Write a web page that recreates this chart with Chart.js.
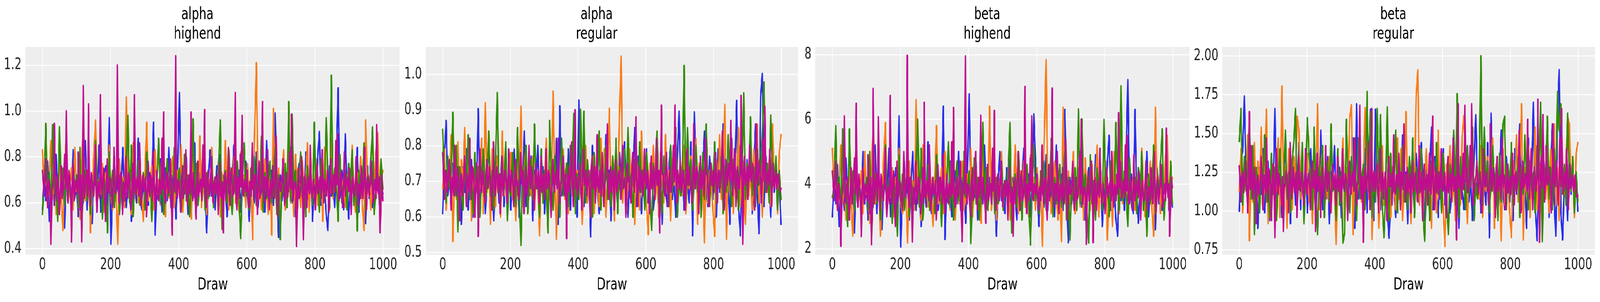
<!DOCTYPE html>
<html>
<head>
<meta charset="utf-8">
<script src="https://cdn.jsdelivr.net/npm/chart.js@4.4.1/dist/chart.umd.min.js"></script>
<style>
  html, body { margin: 0; padding: 0; background: #fff; overflow: hidden; }
  #stage { position: absolute; left: 0; top: 0; width: 5783px; height: 773px; transform-origin: 0 0; }
  #stage canvas { position: absolute; top: 0; }
</style>
</head>
<body>
<div id="stage"></div>
<script>
/* Trace plot: 4 panels (alpha/beta x highend/regular), 4 chains each.
   Values: one sample per ~5 draws, the top (magenta)
   chain one per ~2.5 draws because it is the one that shows. */

const PANEL_TITLES = [["alpha", "highend"], ["alpha", "regular"], ["beta", "highend"], ["beta", "regular"]];
const X_TICKS = [0, 200, 400, 600, 800, 1000];
const X_TICK_LABELS = ["0", "200", "400", "600", "800", "1000"];
const Y_TICKS = [[0.4, 0.6, 0.8, 1.0, 1.2], [0.5, 0.6, 0.7, 0.8, 0.9, 1.0], [2, 4, 6, 8], [0.75, 1.0, 1.25, 1.5, 1.75, 2.0]];
const Y_TICK_LABELS = [["0.4", "0.6", "0.8", "1.0", "1.2"], ["0.5", "0.6", "0.7", "0.8", "0.9", "1.0"],
                       ["2", "4", "6", "8"], ["0.75", "1.00", "1.25", "1.50", "1.75", "2.00"]];
const CHAIN_COLORS = ["#2a2eec", "#fa7c17", "#328c06", "#c10c90"];
const N_DRAWS = 1000;

// ---- alpha / highend ----
const alphaHighend0 = [
  0.57,0.72,0.61,0.78,0.52,0.66,0.70,0.59,0.81,0.63,0.55,0.74,0.68,0.49,0.77,0.64,0.71,0.58,0.83,0.62,
  0.69,0.54,0.75,0.66,0.60,0.87,0.57,0.73,0.65,0.51,0.79,0.68,0.62,0.85,0.56,0.70,0.64,0.76,0.59,0.97,
  0.42,0.67,0.80,0.61,0.72,0.55,0.69,0.84,0.63,0.58,0.74,0.66,0.52,0.78,0.70,0.60,0.88,0.64,0.57,0.71,
  0.65,0.82,0.59,0.73,0.68,0.95,0.46,0.70,0.63,0.79,0.56,0.67,0.75,0.61,0.84,0.58,0.72,0.66,0.53,0.77,
  1.08,0.60,0.71,0.64,0.80,0.55,0.69,0.74,0.62,0.86,0.58,0.67,0.73,0.61,0.78,0.65,0.47,0.70,0.83,0.63,
  0.68,0.57,0.76,0.64,0.81,0.59,0.72,0.66,0.54,0.79,0.62,0.70,0.85,0.60,0.67,0.74,0.56,0.71,0.63,0.78,
  0.65,0.52,0.73,0.69,0.60,0.82,0.58,0.75,0.64,0.70,0.56,0.87,0.62,0.68,0.74,0.59,0.99,0.66,0.45,0.72,
  0.61,0.79,0.57,0.70,0.65,0.84,0.60,0.73,0.54,0.68,0.77,0.63,0.71,0.58,0.82,0.66,0.60,0.75,0.52,0.69,
  0.64,0.80,0.91,0.59,0.72,0.67,0.55,0.48,0.76,0.63,0.70,0.58,0.81,1.10,0.62,0.74,0.57,0.90,0.66,0.53,
  0.71,0.78,0.60,0.67,0.84,0.56,0.73,0.64,0.69,0.51,0.76,0.62,0.80,0.58,0.70,0.65,0.83,0.59,0.68,0.64];
const alphaHighend1 = [
  0.83,0.66,0.74,0.58,0.70,0.87,0.62,0.76,0.55,0.68,0.80,0.63,0.48,0.72,0.89,0.60,0.67,0.75,0.57,0.84,
  0.65,0.71,0.53,0.78,0.95,0.61,0.69,0.74,0.47,0.66,0.82,0.96,0.59,0.70,0.64,0.77,0.56,0.73,0.68,0.85,
  0.62,0.57,0.75,0.66,0.42,0.79,0.63,0.71,0.58,1.06,0.67,0.74,0.55,0.86,0.64,0.70,0.60,0.78,0.65,0.52,
  0.73,0.95,0.61,0.68,0.76,0.57,0.83,0.64,0.70,0.59,0.88,0.66,0.54,0.75,0.62,0.71,0.80,0.58,0.67,0.74,
  0.63,0.85,0.56,0.69,0.77,0.60,0.72,0.53,0.81,0.66,0.74,0.61,0.89,0.58,0.68,0.76,0.55,0.71,0.64,0.84,
  0.59,0.70,0.66,0.78,0.54,0.73,0.62,0.87,0.67,0.57,0.75,0.64,0.80,0.60,0.69,0.56,0.82,0.65,0.72,0.58,
  0.77,0.63,0.70,0.44,0.86,1.21,0.61,0.74,0.57,0.68,0.79,0.64,0.55,0.72,0.46,1.01,0.66,0.58,0.75,0.62,
  0.70,0.83,0.57,0.67,0.76,0.60,0.72,0.54,0.81,0.65,0.69,0.58,0.78,0.63,0.71,0.86,0.56,0.74,0.61,0.68,
  0.79,0.59,0.66,0.73,0.52,0.84,0.64,0.70,0.57,0.88,0.62,0.75,0.67,0.55,0.80,0.63,0.72,0.58,0.69,0.76,
  0.61,0.85,0.65,0.56,0.73,0.68,0.80,0.59,0.48,0.96,0.64,0.71,0.57,0.77,0.66,0.82,0.905,0.60,0.69,0.74];
const alphaHighend2 = [
  0.55,0.68,0.945,0.60,0.73,0.57,0.94,0.64,0.70,0.52,0.93,0.66,0.75,0.59,0.81,0.63,0.69,0.56,0.77,0.65,
  0.72,0.58,0.84,0.475,0.67,0.74,0.61,0.79,0.55,0.70,0.64,0.87,0.60,0.68,0.76,0.53,0.71,0.65,0.47,0.82,
  0.63,0.74,0.58,0.69,0.80,0.56,0.72,0.66,0.61,0.77,0.98,0.60,0.85,0.54,0.70,0.64,0.78,0.59,0.67,0.73,
  0.57,0.82,0.65,0.70,0.52,0.76,0.62,0.68,0.88,0.60,0.73,0.55,0.66,0.79,0.63,0.71,0.58,0.84,0.64,0.69,
  0.75,0.56,0.67,0.81,0.61,0.72,0.54,0.69,0.965,0.63,0.77,0.59,0.70,0.66,0.85,0.57,0.73,0.62,0.68,0.80,
  0.58,0.71,0.65,0.76,0.96,0.485,0.69,0.74,0.60,0.83,0.67,0.55,0.72,0.64,0.78,0.61,0.445,0.70,0.86,0.63,
  0.68,0.57,0.75,0.66,0.80,0.59,0.71,0.64,0.89,0.56,0.73,0.62,0.69,0.78,0.60,0.67,0.84,0.55,0.72,0.44,
  0.70,0.63,0.77,0.58,1.04,0.61,0.985,0.66,0.74,0.57,0.69,0.82,0.62,0.71,0.54,0.76,0.65,0.68,0.59,0.95,
  0.64,0.72,0.56,0.79,0.67,0.61,0.97,0.70,0.58,1.155,0.63,0.75,0.66,0.52,0.81,0.60,0.69,0.73,0.57,0.77,
  0.65,0.83,0.59,0.70,0.478,0.74,0.62,0.68,0.86,0.57,0.71,0.64,0.78,0.93,0.55,0.67,0.73,0.60,0.79,0.66];
const alphaHighend3 = [
  0.74,0.68,0.63,0.71,0.79,0.66,0.58,0.69,0.70,0.62,0.42,0.65,0.67,0.73,0.945,0.64,0.61,0.70,0.72,0.60,
  0.55,0.67,0.76,0.62,0.65,0.72,0.81,0.66,1.00,0.63,0.60,0.74,0.71,0.65,0.43,0.68,0.77,0.61,0.64,0.70,
  0.69,0.64,0.82,0.67,0.57,0.72,0.43,0.66,1.11,0.62,0.66,0.71,0.74,0.63,1.03,0.68,0.59,0.73,0.71,0.65,
  0.63,0.70,0.85,0.64,0.56,0.69,0.68,0.62,1.07,0.66,0.62,0.72,0.75,0.60,0.52,0.67,0.79,0.64,0.65,0.71,
  0.70,0.63,0.58,0.68,0.84,0.65,0.64,0.70,1.20,0.66,0.60,0.72,0.73,0.64,0.55,0.69,0.67,0.61,0.80,0.67,
  0.62,0.73,0.71,0.64,0.57,0.68,0.77,0.62,1.07,0.65,0.64,0.71,0.69,0.63,0.86,0.67,0.59,0.70,0.72,0.65,
  0.66,0.71,0.54,0.64,0.78,0.67,0.63,0.72,0.70,0.61,0.82,0.68,0.57,0.65,0.74,0.62,0.61,0.70,0.68,0.64,
  0.88,0.66,0.995,0.63,0.60,0.69,0.73,0.64,0.65,0.71,0.79,0.62,0.46,0.67,0.71,0.65,1.24,0.68,0.62,0.70,
  0.69,0.63,0.56,0.67,0.76,0.62,0.64,0.71,0.83,0.66,0.59,0.69,0.72,0.64,0.995,0.68,0.61,0.73,0.67,0.62,
  0.53,0.66,0.78,0.63,0.65,0.70,0.70,0.61,0.85,0.67,1.005,0.64,0.58,0.69,0.74,0.65,0.63,0.71,0.80,0.66,
  0.60,0.68,0.71,0.64,0.66,0.72,0.55,0.67,0.77,0.63,0.62,0.69,0.47,0.66,0.73,0.61,0.68,0.70,0.84,0.65,
  0.59,0.72,0.75,0.63,0.64,0.68,1.08,0.66,0.57,0.71,0.70,0.62,0.81,0.67,0.98,0.64,0.63,0.70,0.67,0.65,
  0.74,0.64,0.58,0.69,0.69,0.63,0.86,0.67,0.61,0.72,0.72,0.65,0.55,0.70,0.78,0.62,0.65,0.68,1.04,0.66,
  0.60,0.71,0.70,0.63,0.83,0.67,0.57,0.70,0.67,0.62,0.76,0.68,0.62,0.72,0.89,0.64,0.54,0.69,0.71,0.65,
  0.66,0.71,0.79,0.64,0.59,0.68,0.73,0.62,0.64,0.70,0.82,0.66,0.985,0.63,0.61,0.69,0.69,0.65,0.41,0.67,
  0.75,0.62,0.63,0.70,0.80,0.65,0.44,0.68,0.72,0.63,0.58,0.71,0.67,0.64,0.85,0.69,0.62,0.66,0.70,0.63,
  0.57,0.68,0.77,0.64,0.65,0.71,0.71,0.62,0.83,0.67,0.60,0.70,0.68,0.63,0.74,0.66,0.56,0.69,0.79,0.64,
  0.64,0.72,0.70,0.65,0.87,0.68,0.90,0.62,0.61,0.70,0.73,0.64,0.58,0.67,0.82,0.63,0.66,0.71,0.69,0.65,
  0.75,0.66,0.55,0.69,0.71,0.63,0.63,0.70,0.80,0.65,0.59,0.68,0.68,0.62,0.76,0.67,0.62,0.71,0.84,0.64,
  0.57,0.69,0.72,0.63,0.66,0.70,0.78,0.65,0.60,0.68,0.70,0.62,0.94,0.66,0.64,0.71,0.47,0.60,0.72,0.61];

// ---- alpha / regular ----
const alphaRegular0 = [
  0.61,0.77,0.87,0.66,0.72,0.63,0.75,0.69,0.80,0.64,0.71,0.58,0.74,0.67,0.79,0.62,0.70,0.76,0.60,0.73,
  0.68,0.903,0.65,0.72,0.78,0.61,0.70,0.82,0.66,0.74,0.59,0.71,0.77,0.64,0.69,0.81,0.63,0.73,0.67,0.76,
  0.62,0.70,0.79,0.65,0.72,0.60,0.75,0.68,0.84,0.63,0.71,0.66,0.77,0.59,0.73,0.69,0.80,0.64,0.70,0.74,
  0.61,0.78,0.67,0.72,0.63,0.76,0.69,0.82,0.58,0.911,0.66,0.73,0.70,0.64,0.79,0.62,0.75,0.68,0.71,0.60,
  0.927,0.69,0.74,0.63,0.77,0.66,0.71,0.545,0.80,0.65,0.72,0.68,0.61,0.76,0.70,0.64,0.83,0.67,0.73,0.59,
  0.75,0.66,0.71,0.62,0.78,0.69,0.64,0.81,0.70,0.60,0.74,0.67,0.72,0.85,0.63,0.77,0.68,0.61,0.73,0.66,
  0.79,0.64,0.70,0.75,0.62,0.69,0.83,0.66,0.72,0.58,0.76,0.68,0.63,0.74,0.80,0.65,0.71,0.60,0.77,0.896,
  0.67,0.73,0.62,0.78,0.69,0.64,0.81,0.548,0.894,0.70,0.66,0.75,0.61,0.72,0.84,0.68,0.63,0.77,0.70,0.65,
  0.74,0.60,0.79,0.67,0.71,0.86,0.63,0.75,0.69,0.58,0.82,0.66,0.73,0.926,0.64,0.548,0.78,0.70,0.62,0.76,
  0.68,0.83,0.61,0.74,0.86,0.66,0.554,0.94,1.002,0.63,0.77,0.69,0.72,0.60,0.80,0.67,0.75,0.64,0.71,0.58];
const alphaRegular1 = [
  0.68,0.79,0.62,0.74,0.70,0.83,0.532,0.72,0.65,0.81,0.60,0.76,0.69,0.85,0.63,0.71,0.78,0.59,0.73,0.66,
  0.75,0.64,0.70,0.82,0.61,0.92,0.67,0.74,0.58,0.79,0.69,0.63,0.77,0.71,0.60,0.84,0.66,0.73,0.62,0.70,
  0.78,0.65,0.72,0.59,0.76,0.68,0.91,0.63,0.74,0.80,0.61,0.70,0.66,0.77,0.62,0.73,0.69,0.548,0.75,0.64,
  0.71,0.82,0.60,0.74,0.67,0.952,0.70,0.538,0.76,0.63,0.72,0.79,0.65,0.69,0.61,0.78,0.66,0.87,0.62,0.73,
  0.68,0.75,0.58,0.71,0.80,0.64,0.72,0.67,0.77,0.61,0.74,0.69,0.63,0.82,0.66,0.79,0.60,0.73,0.904,0.65,
  0.72,0.59,0.76,0.68,0.89,1.05,0.64,0.74,0.61,0.70,0.79,0.66,0.73,0.58,0.77,0.69,0.62,0.84,0.67,0.71,
  0.63,0.551,0.75,0.68,0.80,0.65,0.72,0.60,0.78,0.70,0.64,0.83,0.67,0.73,0.59,0.76,0.69,0.85,0.62,0.71,
  0.74,0.66,0.80,0.61,0.72,0.68,0.77,0.63,0.70,0.82,0.58,0.75,0.67,0.71,0.528,0.79,0.64,0.73,0.69,0.62,
  0.546,0.76,0.68,0.83,0.65,0.72,0.915,0.538,0.74,0.67,0.80,0.61,0.73,0.69,0.85,0.63,0.77,0.70,0.58,0.75,
  0.66,0.72,0.62,0.79,0.68,0.86,0.64,0.74,0.60,0.81,0.70,0.67,0.76,0.63,0.86,0.69,0.73,0.61,0.78,0.83];
const alphaRegular2 = [
  0.845,0.71,0.64,0.77,0.68,0.73,0.893,0.66,0.80,0.559,0.74,0.69,0.62,0.76,0.70,0.83,0.65,0.72,0.61,0.78,
  0.67,0.74,0.60,0.71,0.79,0.64,0.70,0.84,0.66,0.73,0.62,0.76,0.948,0.69,0.63,0.75,0.68,0.81,0.59,0.72,
  0.66,0.78,0.70,0.63,0.85,0.67,0.521,0.74,0.69,0.80,0.61,0.72,0.76,0.65,0.86,0.68,0.71,0.60,0.79,0.64,
  0.73,0.67,0.556,0.87,0.70,0.62,0.77,0.69,0.74,0.60,0.82,0.66,0.71,0.75,0.63,0.80,0.68,0.89,0.61,0.72,
  0.65,0.901,0.70,0.896,0.64,0.76,0.69,0.73,0.60,0.78,0.67,0.71,0.84,0.62,0.75,0.68,0.80,0.65,0.72,0.63,
  0.77,0.69,0.82,0.61,0.74,0.66,0.71,0.79,0.63,0.85,0.68,0.72,0.60,0.76,0.70,0.65,0.81,0.67,0.73,0.62,
  0.78,0.70,0.66,0.563,0.75,0.69,0.84,0.64,0.72,0.61,0.77,0.68,0.71,0.63,0.80,0.67,0.74,0.85,0.60,0.70,
  0.66,0.73,1.024,0.64,0.85,0.69,0.76,0.62,0.71,0.80,0.67,0.74,0.60,0.78,0.65,0.86,0.70,0.63,0.75,0.68,
  0.81,0.64,0.72,0.69,0.77,0.61,0.74,0.67,0.83,0.70,0.63,0.76,0.68,0.73,0.62,0.80,0.71,0.947,0.65,0.75,
  0.70,0.88,0.66,0.74,0.63,0.79,0.69,0.72,0.84,0.978,0.67,0.75,0.64,0.885,0.71,0.68,0.77,0.62,0.73,0.65];
const alphaRegular3 = [
  0.78,0.70,0.65,0.73,0.73,0.67,0.69,0.74,0.76,0.68,0.62,0.71,0.71,0.66,0.80,0.69,0.66,0.73,0.74,0.67,
  0.59,0.71,0.72,0.66,0.68,0.73,0.77,0.69,0.63,0.72,0.70,0.67,0.82,0.71,0.65,0.74,0.73,0.68,0.60,0.70,
  0.75,0.68,0.546,0.71,0.79,0.69,0.67,0.73,0.71,0.66,0.64,0.72,0.76,0.68,0.69,0.74,0.72,0.67,0.62,0.71,
  0.81,0.69,0.66,0.73,0.74,0.67,0.70,0.72,0.61,0.70,0.77,0.66,0.68,0.73,0.73,0.69,0.64,0.71,0.79,0.68,
  0.67,0.73,0.72,0.68,0.63,0.71,0.76,0.69,0.70,0.66,0.65,0.72,0.78,0.70,0.69,0.73,0.61,0.68,0.74,0.70,
  0.66,0.72,0.80,0.69,0.68,0.74,0.71,0.67,0.62,0.71,0.75,0.68,0.69,0.73,0.64,0.70,0.77,0.67,0.70,0.72,
  0.65,0.71,0.79,0.68,0.68,0.73,0.72,0.66,0.60,0.70,0.76,0.69,0.67,0.72,0.73,0.68,0.82,0.71,0.64,0.69,
  0.70,0.74,0.77,0.68,0.66,0.72,0.54,0.69,0.74,0.67,0.69,0.73,0.81,0.70,0.63,0.72,0.90,0.68,0.71,0.66,
  0.68,0.72,0.75,0.67,0.62,0.71,0.79,0.69,0.70,0.73,0.66,0.70,0.73,0.67,0.60,0.72,0.77,0.68,0.69,0.74,
  0.64,0.70,0.83,0.69,0.67,0.73,0.72,0.66,0.78,0.71,0.63,0.68,0.71,0.74,0.86,0.69,0.65,0.72,0.74,0.67,
  0.70,0.73,0.62,0.69,0.76,0.67,0.68,0.72,0.73,0.70,0.65,0.74,0.80,0.68,0.69,0.71,0.60,0.67,0.75,0.70,
  0.71,0.66,0.64,0.72,0.78,0.69,0.67,0.73,0.88,0.70,0.63,0.71,0.74,0.67,0.70,0.73,0.66,0.69,0.79,0.71,
  0.68,0.72,0.73,0.67,0.61,0.70,0.77,0.68,0.70,0.74,0.65,0.71,0.82,0.69,0.69,0.73,0.556,0.70,0.913,0.72,
  0.72,0.68,0.66,0.73,0.78,0.70,0.63,0.71,0.74,0.67,0.68,0.72,0.80,0.70,0.913,0.69,0.64,0.73,0.71,0.68,
  0.76,0.70,0.67,0.72,0.73,0.68,0.62,0.71,0.79,0.69,0.69,0.74,0.71,0.67,0.64,0.72,0.86,0.70,0.68,0.73,
  0.74,0.69,0.61,0.71,0.77,0.68,0.70,0.73,0.66,0.70,0.82,0.72,0.72,0.67,0.63,0.71,0.75,0.69,0.69,0.73,
  0.67,0.72,0.78,0.70,0.64,0.73,0.73,0.68,0.70,0.74,0.84,0.71,0.62,0.69,0.76,0.72,0.69,0.75,0.72,0.70,
  0.87,0.73,0.66,0.71,0.79,0.74,0.63,0.70,0.74,0.68,0.68,0.73,0.94,0.71,0.524,0.72,0.77,0.69,0.71,0.74,
  0.65,0.72,0.80,0.71,0.70,0.75,0.74,0.69,0.62,0.73,0.86,0.70,0.69,0.74,0.76,0.71,0.64,0.72,0.82,0.70,
  0.91,0.73,0.67,0.71,0.73,0.69,0.79,0.72,0.63,0.70,0.75,0.68,0.70,0.73,0.68,0.71,0.72,0.69,0.67,0.68];

// ---- beta / highend ----
const betaHighend0 = [
  3.0,4.2,3.4,4.6,2.7,3.7,4.0,3.2,4.8,3.5,2.9,4.3,3.9,2.5,4.5,3.6,4.1,3.2,5.0,3.4,
  3.9,2.9,4.4,3.7,3.3,5.2,3.1,4.2,3.7,2.6,4.7,3.9,3.4,5.1,3.0,4.0,3.6,4.5,3.2,6.1,
  2.07,3.8,4.7,3.4,4.2,2.9,3.9,5.0,3.5,3.2,4.3,3.7,2.7,4.6,4.0,3.3,5.3,3.6,3.1,4.1,
  3.7,4.9,3.2,4.2,3.9,6.4,2.3,4.0,3.5,4.7,3.0,3.8,4.4,3.4,5.0,3.2,4.2,3.7,2.8,4.5,
  6.78,3.3,4.1,3.6,4.7,2.9,3.9,4.3,3.4,5.2,3.2,3.8,4.2,3.4,4.6,3.7,2.4,4.0,5.0,3.5,
  3.9,3.1,4.5,3.6,4.8,3.2,4.2,3.7,2.9,4.7,3.4,4.0,5.1,3.3,3.8,4.3,3.0,4.1,6.16,4.6,
  3.7,2.7,4.2,3.9,3.3,4.9,3.2,4.4,3.6,4.0,3.0,5.2,3.4,3.9,4.3,3.2,6.3,3.7,2.2,4.2,
  3.4,4.7,3.1,4.0,3.7,5.0,3.3,4.2,2.9,3.9,4.5,3.5,4.1,3.2,4.9,3.7,3.3,4.4,2.7,3.9,
  3.6,4.7,5.5,3.2,4.2,3.8,2.9,2.4,4.5,3.5,4.0,3.2,4.8,7.22,3.4,4.3,3.1,6.3,3.7,2.8,
  4.1,4.6,3.3,3.8,5.0,3.0,4.2,3.6,3.9,2.6,4.5,3.4,4.7,3.2,4.0,3.7,5.0,3.2,3.9,3.3];
const betaHighend1 = [
  5.1,3.7,4.3,3.2,4.0,5.2,3.4,4.5,2.9,3.9,4.7,3.5,2.4,4.2,5.4,3.3,3.8,4.4,3.1,5.0,
  3.7,4.1,2.8,4.6,5.8,3.4,3.9,4.3,2.4,3.7,4.9,5.9,3.2,4.0,3.6,4.5,3.0,4.2,3.9,5.1,
  3.4,3.1,4.4,3.7,2.19,4.7,3.5,4.1,3.2,6.6,3.8,4.3,2.9,5.2,3.6,4.0,3.3,4.6,3.7,2.7,
  4.2,5.8,3.4,3.9,4.5,3.1,5.0,3.6,4.0,3.2,5.3,3.7,2.9,4.4,3.4,4.1,4.7,3.2,3.8,4.3,
  3.5,5.1,3.0,3.9,4.5,3.3,4.2,2.8,4.8,3.7,4.3,3.4,6.4,3.2,3.9,4.5,2.9,4.1,3.6,5.0,
  3.2,4.0,3.7,4.6,2.9,4.2,3.4,5.2,3.8,3.1,4.4,3.6,4.7,3.3,3.9,3.0,4.9,3.7,4.2,3.2,
  4.5,3.5,4.0,2.09,5.2,7.84,3.4,4.3,3.1,3.9,4.7,3.6,2.9,4.2,2.23,6.37,3.7,3.2,4.4,3.4,
  4.0,5.0,3.1,3.8,4.5,3.3,4.2,2.9,4.8,3.7,3.9,3.2,4.6,3.5,4.1,5.2,3.0,4.3,3.4,3.9,
  4.7,2.28,3.7,4.2,2.7,5.0,3.6,4.0,3.1,5.3,3.4,4.4,3.8,2.9,4.7,3.5,4.2,3.2,3.9,4.5,
  3.4,5.1,3.7,3.0,4.2,3.9,4.7,3.2,2.4,6.37,3.6,4.1,3.1,4.5,3.7,4.9,5.5,3.3,3.9,4.2];
const betaHighend2 = [
  3.6,3.9,5.8,3.3,4.2,3.1,5.7,3.6,4.0,2.7,5.7,3.7,4.4,3.2,4.8,3.5,3.9,3.0,4.5,3.7,
  4.2,3.2,5.0,2.37,3.8,4.3,3.4,4.7,2.9,4.0,3.6,5.2,3.3,3.9,4.5,2.8,4.1,3.7,2.4,4.9,
  3.5,4.3,3.2,3.9,4.7,3.0,4.2,3.7,3.4,4.5,6.0,3.3,5.1,2.9,4.0,3.6,4.6,3.2,3.8,4.2,
  3.1,4.9,3.7,4.0,2.7,4.5,3.4,3.9,5.3,3.3,4.2,2.9,3.7,4.7,3.5,4.1,3.2,5.0,3.6,3.9,
  4.4,2.17,3.8,4.8,3.4,4.2,2.9,3.9,5.9,3.5,4.5,3.2,4.0,3.7,5.1,3.1,4.2,3.4,3.9,4.7,
  3.2,4.1,3.7,4.5,5.9,2.5,3.9,4.3,3.3,5.0,3.8,2.9,4.2,3.6,4.6,3.4,2.13,4.0,5.2,3.5,
  3.9,3.1,4.4,3.7,4.7,3.2,4.1,3.6,5.4,3.0,4.2,3.4,3.9,4.6,3.3,3.8,5.0,2.9,4.2,2.28,
  4.0,3.5,4.5,3.2,6.31,3.4,6.0,3.7,4.3,3.1,2.19,4.9,3.4,4.1,2.9,4.5,3.7,3.9,3.2,5.99,
  3.6,4.2,3.0,4.7,3.8,3.4,5.9,4.0,3.2,7.03,3.5,4.4,3.7,2.7,4.8,3.3,3.9,4.2,3.1,4.5,
  3.7,5.0,3.2,4.0,2.4,4.3,3.4,3.9,5.2,3.1,4.1,3.6,4.6,5.7,2.9,3.8,4.2,3.3,4.7,3.4];
const betaHighend3 = [
  4.4,3.9,3.5,4.1,4.7,3.7,3.2,4.0,4.0,3.4,2.09,3.6,3.8,4.2,6.1,3.5,3.4,4.0,4.2,3.3,
  2.9,3.8,4.5,3.4,3.7,4.2,4.8,3.7,6.49,3.5,3.3,4.3,4.1,3.6,2.39,3.9,4.5,3.4,3.6,4.0,
  3.9,3.5,4.9,3.8,3.1,4.2,2.14,3.7,6.95,3.4,3.7,4.1,4.3,3.5,6.07,3.9,3.2,4.3,4.1,3.6,
  3.5,4.0,5.1,3.6,3.0,3.9,3.9,3.4,6.73,3.7,3.4,4.2,4.4,3.3,2.7,3.8,4.7,3.5,3.7,4.1,
  4.0,3.5,3.2,3.9,5.0,3.7,3.6,4.0,7.97,3.7,3.3,4.2,4.2,3.6,2.22,3.9,3.8,3.4,4.7,3.8,
  3.4,4.2,4.1,3.6,3.1,3.9,4.5,3.4,6.52,3.6,3.6,4.1,3.9,3.5,5.2,3.8,3.2,4.0,4.2,3.7,
  3.7,4.1,2.9,3.6,4.6,3.8,3.5,4.2,4.0,3.4,4.9,3.9,3.1,3.7,4.3,3.5,3.4,4.0,3.9,3.6,
  5.3,3.7,6.36,3.5,3.3,3.9,4.2,3.6,3.7,4.1,4.7,3.5,2.23,3.8,4.1,3.7,7.95,3.9,3.4,4.0,
  3.9,3.5,3.0,3.8,4.5,3.5,3.6,4.1,5.0,3.7,3.2,3.9,4.2,3.6,6.12,3.9,3.4,4.2,3.8,3.5,
  2.8,3.7,4.6,3.5,3.7,4.0,4.0,3.4,5.1,3.8,6.27,3.6,3.2,3.9,4.3,3.7,3.5,4.1,4.7,3.7,
  3.3,3.9,4.1,3.6,3.7,4.1,2.9,3.8,4.5,3.5,3.4,3.9,2.4,3.7,4.2,3.4,3.9,4.0,5.0,3.7,
  3.2,4.1,4.4,3.5,3.6,3.9,7.01,3.7,3.1,4.0,4.0,3.5,4.8,3.8,6.1,3.6,3.5,4.0,3.8,3.7,
  4.3,3.6,3.2,3.9,3.9,3.5,5.2,3.8,3.4,4.1,4.2,3.7,2.9,4.0,4.6,3.5,3.7,3.9,6.96,3.8,
  3.3,4.0,4.0,3.5,5.0,3.8,3.1,4.0,3.8,3.5,4.5,3.8,3.4,4.1,5.4,3.6,2.9,3.9,4.1,3.7,
  3.7,4.0,4.7,3.6,3.2,3.8,4.2,3.5,3.6,4.0,4.9,3.7,6.0,3.5,3.4,3.9,3.9,3.6,2.15,3.8,
  4.4,3.5,3.5,4.0,4.7,3.7,2.2,3.9,4.2,3.5,3.2,4.1,3.8,3.6,5.1,3.9,3.4,3.7,4.0,3.5,
  3.1,3.8,4.5,3.6,3.7,4.0,4.1,3.5,5.0,3.8,3.3,4.0,3.9,3.5,4.3,3.7,6.2,3.9,4.7,3.6,
  3.6,4.1,4.0,3.6,5.2,3.8,5.5,3.5,3.4,4.0,4.2,3.6,3.2,3.8,4.9,3.5,3.7,4.1,3.9,3.6,
  4.4,3.7,2.9,3.9,4.1,3.5,3.5,4.0,4.7,3.6,3.2,3.9,3.9,3.5,4.5,3.8,3.4,4.1,5.0,3.6,
  3.1,3.9,4.2,3.5,3.7,4.0,4.6,3.6,3.3,3.9,4.0,3.5,5.72,3.8,3.6,4.0,2.4,3.4,4.2,3.9];

// ---- beta / regular ----
const betaRegular0 = [
  1.00,1.35,1.38,1.74,1.23,1.01,1.30,1.16,1.42,1.04,1.20,0.89,1.28,1.11,1.40,0.99,1.18,1.32,0.94,1.25,
  1.13,1.66,1.06,1.23,1.37,0.96,1.18,1.47,1.08,1.28,0.92,1.20,1.35,1.04,1.16,1.44,1.01,1.25,1.11,1.32,
  0.99,1.18,1.40,1.06,1.23,0.94,1.30,1.13,1.52,1.01,1.20,1.08,1.35,0.92,1.25,1.16,1.42,1.04,1.18,1.28,
  0.96,1.37,1.11,1.23,1.01,1.32,1.16,1.47,0.89,1.69,1.08,1.25,1.18,1.04,1.40,0.99,1.30,1.655,1.20,0.94,
  1.655,1.16,1.28,1.01,1.35,1.08,1.20,1.00,0.826,1.06,1.23,1.13,0.96,1.32,1.18,1.04,1.49,1.11,1.25,0.92,
  1.30,1.08,1.20,0.99,1.37,1.16,1.04,1.44,1.18,0.94,1.28,1.11,1.23,1.54,1.01,1.35,1.13,0.96,1.25,1.08,
  1.40,1.04,1.18,1.30,0.99,1.16,1.49,1.08,1.23,0.89,1.32,1.13,1.01,1.28,1.42,1.06,1.20,0.94,1.35,1.62,
  1.11,1.25,0.99,1.37,1.16,1.04,1.44,0.83,1.63,1.18,1.08,1.30,0.96,1.23,1.52,1.13,1.01,1.35,1.18,1.06,
  1.28,0.94,1.40,1.11,1.20,1.56,1.01,1.30,1.16,0.89,1.47,1.08,1.25,1.70,1.04,0.81,1.37,1.18,0.99,1.32,
  1.13,1.49,0.96,1.28,1.56,1.08,0.84,1.60,1.91,0.99,0.815,1.16,1.23,0.94,1.42,1.11,1.30,1.04,1.20,1.00];
const betaRegular1 = [
  1.13,1.40,0.99,1.28,1.18,1.49,0.81,1.23,1.06,1.44,0.94,1.32,1.16,1.54,1.01,1.20,1.655,0.92,1.25,1.08,
  1.30,1.04,1.18,1.47,0.96,1.805,1.11,1.28,0.89,1.40,1.16,1.01,1.35,1.20,1.61,1.52,1.08,1.25,0.99,1.18,
  1.37,1.06,1.23,0.92,1.32,1.13,1.69,1.01,1.28,1.42,0.96,1.18,1.08,1.35,0.99,1.25,1.16,0.787,1.30,1.04,
  1.20,1.47,0.94,1.28,1.11,1.60,1.685,0.85,1.32,1.01,1.23,1.40,1.06,1.16,1.666,1.37,1.08,1.59,0.818,1.25,
  1.13,1.30,0.89,1.20,1.42,1.04,1.23,1.11,1.35,0.96,1.28,1.16,1.01,1.47,1.08,1.40,0.94,1.25,1.64,1.06,
  1.23,0.92,1.32,1.13,1.74,1.91,1.04,1.28,0.96,1.18,1.40,1.08,1.25,0.89,1.35,1.16,0.99,1.52,1.11,1.20,
  1.01,0.773,1.30,1.13,1.42,1.06,1.23,0.94,1.37,1.18,1.04,1.49,1.615,1.25,0.92,1.32,1.16,1.54,0.99,1.20,
  1.28,1.08,1.42,0.96,1.23,1.13,1.35,1.01,1.18,1.47,0.89,1.30,1.11,1.20,0.81,1.40,1.04,1.25,1.16,0.99,
  0.83,1.32,1.13,1.49,1.06,1.23,1.69,0.815,1.28,1.11,1.42,0.96,1.25,1.16,1.54,1.01,1.35,1.18,0.89,1.30,
  1.08,1.23,0.99,1.40,1.13,1.56,1.04,1.28,0.94,1.44,1.18,1.11,1.32,1.61,1.56,1.16,1.25,0.96,1.37,1.44];
const betaRegular2 = [
  1.45,1.66,1.04,1.35,1.13,1.25,1.63,1.08,1.42,0.85,1.28,1.16,0.99,1.32,1.18,1.49,1.06,1.23,0.96,1.37,
  1.11,1.28,0.94,1.20,1.40,1.04,1.18,1.52,1.08,1.25,0.99,1.32,1.45,1.66,1.01,1.30,1.13,1.44,0.92,1.23,
  1.60,1.37,1.18,1.01,1.54,1.11,0.85,1.28,1.16,1.42,0.96,1.23,1.32,1.06,1.56,1.13,1.20,0.94,1.40,1.04,
  1.25,0.794,0.86,1.59,1.18,0.99,1.35,1.16,1.28,0.94,1.47,1.08,1.20,1.30,1.01,1.77,1.13,1.64,0.96,1.23,
  1.06,1.66,1.18,1.62,1.04,0.83,1.16,1.67,0.94,1.37,1.11,1.20,1.52,0.99,1.30,1.13,1.42,1.06,1.23,1.01,
  1.35,1.16,1.47,0.96,1.28,1.08,1.20,1.40,1.01,0.806,1.13,1.23,0.94,1.32,1.18,1.06,1.44,1.11,1.25,0.99,
  1.37,1.18,1.08,0.85,1.30,1.16,1.52,1.04,1.755,0.96,1.35,1.13,1.20,1.01,1.42,1.11,1.28,1.54,0.94,1.18,
  1.08,1.25,2.00,1.04,1.54,1.16,1.32,0.99,1.20,1.42,1.11,1.28,0.94,1.37,1.06,1.56,1.61,1.01,1.30,1.13,
  1.44,1.04,1.23,1.16,1.35,0.96,1.28,1.11,1.49,1.18,1.01,1.32,1.13,1.25,0.99,1.42,1.20,1.70,0.804,1.30,
  1.18,1.61,1.08,1.28,1.01,1.40,1.16,1.77,1.52,1.69,1.11,1.30,1.04,1.63,1.20,1.13,1.35,0.99,1.25,1.06];
const betaRegular3 = [
  1.29,1.15,1.06,1.22,1.25,1.12,1.16,1.27,1.32,1.10,0.99,1.19,1.64,1.14,1.42,1.21,1.08,1.26,1.28,1.13,
  0.92,1.20,1.23,1.11,1.13,1.25,1.35,1.16,1.01,1.23,1.18,1.12,1.47,1.20,1.06,1.27,1.25,1.14,0.94,1.19,
  1.30,1.16,0.83,1.21,1.40,1.14,1.11,1.24,1.20,1.12,1.04,1.22,0.87,1.17,1.16,1.26,1.23,1.13,0.99,1.20,
  1.44,1.15,1.08,1.23,1.28,1.12,1.18,1.25,0.96,1.19,1.35,1.14,1.13,1.22,1.25,1.11,1.04,1.20,1.40,1.16,
  1.11,1.24,1.23,1.14,1.01,1.21,1.32,1.15,1.18,1.26,0.87,1.19,1.37,1.13,1.16,1.22,0.96,1.17,1.28,1.12,
  1.08,1.23,1.42,1.16,1.13,1.25,1.20,1.11,0.99,1.21,1.30,1.14,1.16,1.24,1.04,1.18,1.35,1.13,1.18,1.22,
  1.06,1.20,1.40,1.15,1.13,1.24,1.23,1.12,0.94,1.19,1.32,1.16,1.11,1.23,1.25,1.13,1.47,1.21,1.04,1.17,
  1.18,1.25,1.68,1.14,1.08,1.22,0.80,1.18,1.28,1.12,1.16,1.24,1.44,1.15,1.01,1.21,1.66,1.13,1.20,1.26,
  1.13,1.22,1.30,1.15,0.99,1.20,1.40,1.13,1.18,1.25,1.08,1.19,1.25,1.12,0.94,1.22,1.35,1.16,1.16,1.24,
  1.04,1.18,1.49,1.13,1.11,1.23,1.23,1.15,1.37,1.20,1.01,1.25,1.20,1.14,1.56,1.21,1.06,1.17,1.28,1.12,
  1.18,1.24,0.99,1.16,1.32,1.13,1.13,1.22,1.25,1.15,1.06,1.20,1.42,1.12,1.16,1.25,0.94,1.18,1.30,1.14,
  1.20,1.23,1.04,1.17,1.37,1.13,1.11,1.24,1.61,1.16,1.01,1.21,1.28,1.12,1.18,1.25,1.08,1.19,1.40,1.15,
  1.13,1.21,1.25,1.14,0.96,1.19,1.35,1.12,1.18,1.24,1.06,1.17,1.47,1.13,1.16,1.22,0.815,1.18,1.69,1.15,
  1.23,1.20,1.08,1.25,1.37,1.14,1.68,1.19,1.28,1.12,1.13,1.23,1.42,1.16,1.69,1.21,1.04,1.17,1.20,1.24,
  1.32,1.15,1.11,1.22,1.25,1.13,0.99,1.20,1.40,1.16,1.16,1.25,1.20,1.12,1.04,1.21,1.56,1.17,1.13,1.24,
  1.28,1.14,0.96,1.20,1.35,1.13,1.18,1.23,1.08,1.19,1.47,1.15,1.23,1.21,1.01,1.17,1.30,1.12,1.16,1.22,
  1.11,1.21,1.37,1.16,1.04,1.23,1.25,1.14,1.18,1.26,1.52,1.17,0.99,1.22,1.32,1.15,1.16,1.24,1.23,1.13,
  1.59,1.20,1.08,1.25,1.40,1.16,1.01,1.22,1.28,1.14,1.13,1.23,1.72,1.18,0.80,1.21,1.35,1.15,1.62,1.19,
  1.06,1.22,1.42,1.17,1.18,1.24,1.28,1.14,0.99,1.21,1.56,1.18,1.16,1.25,1.32,1.15,1.04,1.22,1.47,1.16,
  1.66,1.23,1.11,1.19,1.25,1.14,1.40,1.21,1.01,1.18,1.30,1.15,1.18,1.23,1.13,1.17,1.23,1.12,1.09,1.10];

const PANEL_CHAINS = [
  [alphaHighend0, alphaHighend1, alphaHighend2, alphaHighend3],
  [alphaRegular0, alphaRegular1, alphaRegular2, alphaRegular3],
  [betaHighend0, betaHighend1, betaHighend2, betaHighend3],
  [betaRegular0, betaRegular1, betaRegular2, betaRegular3],
];
// y limits as drawn in the reference
const Y_RANGES = [[0.373, 1.280], [0.494, 1.077], [1.82, 8.24], [0.718, 2.059]];

// plot-area boxes in figure pixels (left, right); all share top 120 / bottom 652
const PLOT_BOXES = [[92, 1445], [1539, 2884], [2947, 4299], [4418, 5764]];
const SIDE = 110, PAGE_W = 5783, PAGE_H = 773, PLOT_BOTTOM = 652;
const FONT = "'DejaVu Sans', 'Liberation Sans', sans-serif";

// the browser may give a narrower window than the figure; squeeze the stage to fit it
const stage = document.getElementById("stage");
const sx = Math.min(1, window.innerWidth / PAGE_W);
if (sx < 1) stage.style.transform = "scaleX(" + sx + ")";

const areaFill = {
  id: "areaFill",
  beforeDraw(chart) {
    const { ctx, chartArea: a } = chart;
    ctx.save();
    ctx.fillStyle = "#eeeeee";
    ctx.fillRect(a.left, a.top, a.right - a.left, a.bottom - a.top);
    ctx.restore();
  },
};

PANEL_TITLES.forEach((title, p) => {
  const [L, R] = PLOT_BOXES[p];
  const canvas = document.createElement("canvas");
  const w = (R - L) + 2 * SIDE;
  canvas.width = w; canvas.height = PAGE_H;
  canvas.style.left = (L - SIDE) + "px";
  canvas.style.width = w + "px"; canvas.style.height = PAGE_H + "px";
  stage.appendChild(canvas);

  const yTicks = Y_TICKS[p], yLabels = Y_TICK_LABELS[p];
  const datasets = PANEL_CHAINS[p].map((vals, c) => ({
    label: "chain " + c,
    data: vals.map((v, i) => ({ x: Math.round(i * (N_DRAWS - 1) / (vals.length - 1)), y: v })),
    borderColor: CHAIN_COLORS[c],
    borderWidth: 5.5,
    borderJoinStyle: "round",
    borderCapStyle: "round",
    pointRadius: 0,
    tension: 0,
    order: 3 - c,  // later chains painted on top
  }));

  new Chart(canvas, {
    type: "line",
    data: { datasets },
    plugins: [areaFill],
    options: {
      responsive: false, animation: false, devicePixelRatio: 1,
      layout: { padding: { left: 0, right: SIDE, top: 0, bottom: 0 } },
      plugins: {
        legend: { display: false },
        tooltip: { enabled: false },
        title: {
          display: true, text: title, color: "#000",
          font: { family: FONT, size: 42, weight: "normal", lineHeight: 1.17 },
          padding: { top: 14, bottom: 7.7 },
        },
      },
      scales: {
        x: {
          type: "linear", min: -49.95, max: 1048.95,
          afterBuildTicks: s => { s.ticks = X_TICKS.map(v => ({ value: v })); },
          afterFit: s => { s.height = PAGE_H - PLOT_BOTTOM; },
          ticks: {
            callback: (v, i) => X_TICK_LABELS[i], autoSkip: false, maxRotation: 0,
            color: "#262626", padding: 3, font: { family: FONT, size: 40, lineHeight: 1.2 },
          },
          grid: { color: "#ffffff", lineWidth: 2.5, drawTicks: false },
          border: { display: false },
          title: {
            display: true, text: "Draw", color: "#000",
            font: { family: FONT, size: 42, lineHeight: 1.2 }, padding: { top: 0, bottom: 18 },
          },
        },
        y: {
          type: "linear", min: Y_RANGES[p][0], max: Y_RANGES[p][1],
          afterBuildTicks: s => { s.ticks = yTicks.map(v => ({ value: v })); },
          afterFit: s => { s.width = SIDE; },
          ticks: {
            callback: (v, i) => yLabels[i], autoSkip: false,
            color: "#262626", padding: 14, font: { family: FONT, size: 40, lineHeight: 1.2 },
          },
          grid: { color: "#ffffff", lineWidth: 2.5, drawTicks: false },
          border: { display: false },
        },
      },
    },
  });
});
</script>
</body>
</html>
